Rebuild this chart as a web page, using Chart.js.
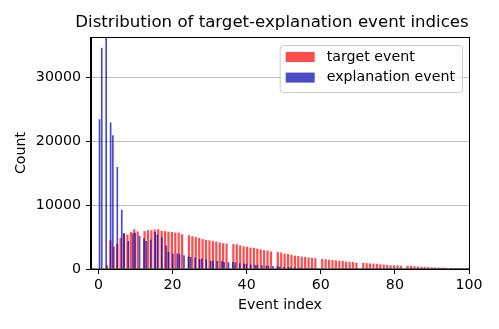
<!DOCTYPE html>
<html>
<head>
<meta charset="utf-8">
<script src="https://cdn.jsdelivr.net/npm/chart.js@4.4.1/dist/chart.umd.min.js"></script>
<style>
  html, body { margin: 0; padding: 0; background: #fff; }
</style>
</head>
<body>
<canvas id="myChart" width="499" height="329"></canvas>
<script>
// Datos (conteo por índice de evento 0..100)
const eventIndex = Array.from({ length: 101 }, (_, i) => i);

const targetCounts = [
  0, 0, 600, 4500, 3500, 3950, 4900, 5600, 5400, 5800,
  6250, 5900, 5950, 6100, 6100, 6200, 6250, 6000, 5950, 5850,
  5800, 5720, 5700, 5450, 5300, 5150, 5000, 4880, 4700, 4550,
  4500, 4400, 4300, 4150, 4050, 3990, 3900, 3880, 3700, 3550,
  3500, 3350, 3300, 3200, 3100, 2950, 2900, 2750, 2650, 2600,
  2400, 2350, 2200, 2100, 2050, 1950, 1900, 1800, 1750, 1700,
  1600, 1530, 1450, 1420, 1350, 1300, 1250, 1180, 1120, 1080,
  1000, 960, 920, 880, 850, 800, 740, 700, 650, 600,
  580, 560, 540, 520, 480, 440, 400, 360, 320, 290,
  270, 250, 230, 220, 200, 170, 160, 140, 120, 110, 100
];

const explanationCounts = [
  23500, 34700, 42000, 23000, 21000, 16000, 9300, 5600, 4400, 5600,
  5700, 5200, 4800, 4400, 4600, 5800, 5400, 5000, 3700, 2700,
  2420, 2450, 2300, 2150, 1950, 1900, 1800, 1550, 1650, 1500,
  1280, 1300, 1260, 1250, 1100, 1050, 1080, 1050, 900, 880,
  820, 700, 650, 630, 600, 520, 480, 460, 420, 380,
  330, 310, 280, 250, 220, 210, 200, 190, 150, 130,
  110, 100, 90, 80, 70, 60, 55, 50, 45, 40,
  35, 32, 30, 28, 25, 22, 20, 18, 16, 15,
  14, 12, 11, 10, 9, 8, 7, 6, 6, 5,
  5, 4, 4, 3, 3, 3, 2, 2, 2, 1, 1
];

const xTicks = [0, 20, 40, 60, 80, 100];
const yTicks = [0, 10000, 20000, 30000];

// Ancho de los bins del histograma (cada serie tiene sus propios bins)
const targetBinWidth = 0.922;
const explanationBinWidth = 0.6;

// Centro del bin donde cae cada índice entero
function binCenter(k, w) {
  return (Math.floor(k / w + 1e-9) + 0.5) * w;
}

const FONT = "'DejaVu Sans', sans-serif";
const FS = 14.2;

// Plugin: marco, título y leyenda estilo matplotlib
const decorPlugin = {
  id: 'decor',
  afterDatasetsDraw(chart) {
    const { ctx, chartArea: a } = chart;
    ctx.save();
    ctx.strokeStyle = '#000';
    ctx.lineWidth = 1;
    ctx.strokeRect(Math.round(a.left) - 0.5, Math.round(a.top) + 0.5,
      Math.round(a.right) - Math.round(a.left) + 1, Math.round(a.bottom) - Math.round(a.top) - 0.5);
    ctx.restore();
  },
  afterDraw(chart) {
    const { ctx, chartArea: a } = chart;
    ctx.save();
    // Título
    ctx.fillStyle = '#000';
    ctx.font = '16.6px ' + FONT;
    ctx.textAlign = 'center';
    ctx.textBaseline = 'alphabetic';
    ctx.fillText('Distribution of target-explanation event indices', (a.left + a.right) / 2 - 8, 27);

    // Leyenda
    const ds = chart.data.datasets;
    ctx.font = FS + 'px ' + FONT;
    const textW = Math.max(...ds.map(d => ctx.measureText(d.label).width));
    const w = 6 + 29 + 12 + textW + 7;
    const h = 47;
    const x0 = a.right - 7 - w;
    const y0 = a.top + 8;
    ctx.beginPath();
    ctx.roundRect(x0 + 0.5, y0 + 0.5, w, h, 3);
    ctx.fillStyle = 'rgba(255,255,255,0.8)';
    ctx.fill();
    ctx.strokeStyle = '#cccccc';
    ctx.lineWidth = 1;
    ctx.stroke();
    ds.forEach((d, i) => {
      const cy = y0 + 12 + i * 20.6;
      ctx.fillStyle = d.backgroundColor;
      ctx.fillRect(x0 + 6, cy - 5, 29, 10);
      ctx.fillStyle = '#000';
      ctx.textAlign = 'left';
      ctx.textBaseline = 'middle';
      ctx.fillText(d.label, x0 + 47, cy);
    });
    ctx.restore();
  }
};

const ctx = document.getElementById('myChart').getContext('2d');

new Chart(ctx, {
  type: 'bar',
  data: {
    datasets: [{
      label: 'target event',
      data: eventIndex.map((k, i) => ({ x: binCenter(k, targetBinWidth), y: targetCounts[i] })),
      backgroundColor: 'rgba(255,0,0,0.7)',
      borderWidth: 0,
      inflateAmount: 0,
      barThickness: 2.2,
      grouped: false,
      order: 1
    }, {
      label: 'explanation event',
      data: eventIndex.map((k, i) => ({ x: binCenter(k, explanationBinWidth), y: explanationCounts[i] })),
      backgroundColor: 'rgba(0,0,175,0.7)',
      borderWidth: 0,
      inflateAmount: 0,
      barThickness: 1.7,
      grouped: false,
      order: 0
    }]
  },
  options: {
    responsive: false,
    animation: false,
    devicePixelRatio: 1,
    layout: { padding: { top: 37, right: 30, left: 0, bottom: 0 } },
    plugins: {
      legend: { display: false },
      tooltip: { enabled: false },
      title: { display: false }
    },
    scales: {
      x: {
        type: 'linear',
        min: -2,
        max: 100,
        offset: false,
        afterBuildTicks: s => { s.ticks = xTicks.map(v => ({ value: v })); },
        afterFit: s => { s.height = 60; },
        ticks: { color: '#000', font: { family: FONT, size: FS }, padding: 3, maxRotation: 0, callback: v => String(v) },
        grid: { drawOnChartArea: false, offset: false, tickLength: 5, tickColor: '#000' },
        border: { color: '#000' },
        title: { display: true, text: 'Event index', color: '#000', font: { family: FONT, size: FS }, padding: { top: 0, bottom: 15 } }
      },
      y: {
        min: 0,
        max: 36400,
        afterBuildTicks: s => { s.ticks = yTicks.map(v => ({ value: v })); },
        afterFit: s => { s.width = 91; },
        ticks: { color: '#000', font: { family: FONT, size: FS }, padding: 5, callback: v => String(v) },
        grid: { color: 'rgba(176,176,176,0.8)', tickLength: 5, tickColor: '#000' },
        border: { color: '#000' },
        title: { display: true, text: 'Count', color: '#000', font: { family: FONT, size: FS }, padding: { top: 13, bottom: 0 } }
      }
    }
  },
  plugins: [decorPlugin]
});
</script>
</body>
</html>
